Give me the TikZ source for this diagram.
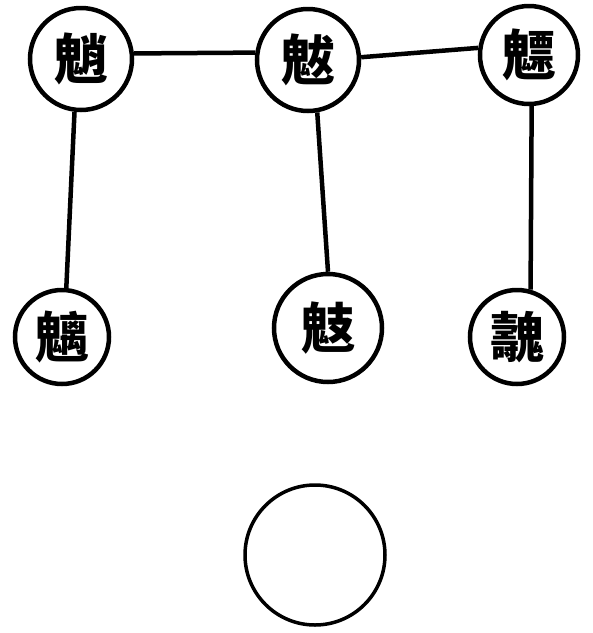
\documentclass[tikz,border=0pt]{standalone}
\usepackage{fontspec}
\newfontfamily\cjk{Noto Sans CJK TC}
\tikzset{
  ghost/.style={circle, draw=black, line width=4.5pt, inner sep=0pt, font=\cjk\bfseries\fontsize{54}{56}\selectfont},
  link/.style={line width=4.5pt, draw=black}
}
\begin{document}
\begin{tikzpicture}[x=1pt,y=-1pt]
\useasboundingbox (0,0) rectangle (593,633);
\node[ghost, minimum size=102pt] (tl) at (81,59) {魈};
\node[ghost, minimum size=102pt] (tm) at (308,60) {魃};
\node[ghost, minimum size=98pt] (tr) at (529,55) {魒};
\node[ghost, minimum size=94pt] (bl) at (62,337) {魑};
\node[ghost, minimum size=108pt] (bm) at (328,328) {鬾};
\node[ghost, minimum size=94pt] (br) at (517,337) {魗};
\node[circle, draw=black, line width=3.5pt, minimum size=140pt, inner sep=0pt] (em) at (315,555) {};
\draw[link] (tl.6) -- (tm.172);
\draw[link] (tm.3) -- (tr.172);
\draw[link] (tl.-97) -- (bl.85);
\draw[link] (tm.-80) -- (bm.90);
\draw[link] (tr.-87) -- (br.74);
\end{tikzpicture}
\end{document}
